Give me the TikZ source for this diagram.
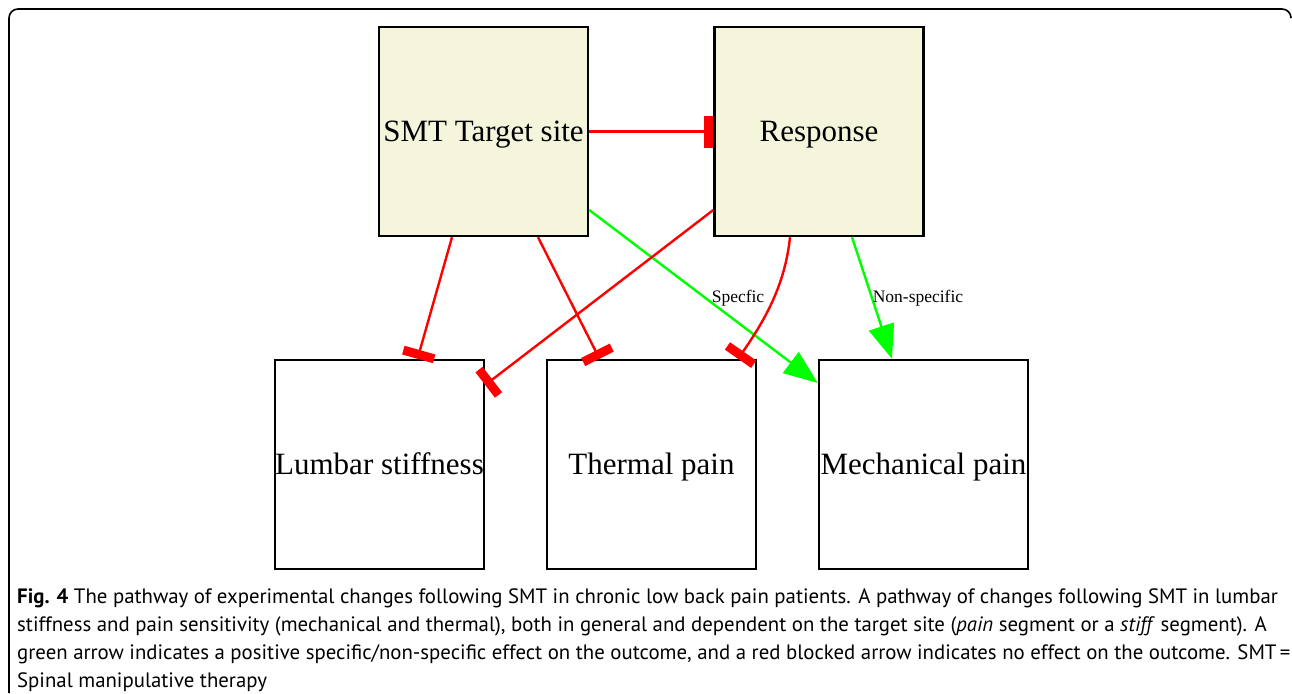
\documentclass[tikz,border=0pt]{standalone}
\usepackage{fontspec}
\setmainfont{Liberation Serif}
\newfontfamily\capfont{PT Sans}
\usetikzlibrary{arrows.meta}
\definecolor{boxfill}{HTML}{F5F5DC}
\definecolor{gr}{HTML}{00FF00}
\definecolor{rd}{HTML}{FF0000}
\begin{document}
\begin{tikzpicture}[x=1pt,y=-1pt,
  box/.style={draw=black,line width=2.4pt,minimum width=209pt,minimum height=209pt,inner sep=0pt,text depth=1pt,font=\fontsize{31}{34}\selectfont},
  src/.style={box,fill=boxfill},
  blk/.style={draw=rd,line width=2.4pt,-{Rectangle[length=9pt,width=32pt]}},
  posarrow/.style={draw=gr,line width=2.4pt,-{Triangle[length=34pt,width=26pt]}},
  elab/.style={font=\fontsize{17.5}{20}\selectfont,inner sep=0pt},
  capline/.style={anchor=base west,inner sep=0pt,font=\capfont\fontsize{20.8}{24}\selectfont}]
\useasboundingbox (0,0) rectangle (1292,693);
\draw[line width=1.6pt,rounded corners=9pt] (1291,17) -- (1291,9) -- (9,9) -- (9,693);
\node[src] (smt) at (483.5,131.5) {SMT Target site};
\node[src] (resp) at (819,131.5) {Response};
\node[box] (lumb) at (379.5,464.5) {Lumbar stiffness};
\node[box] (therm) at (651.5,464.5) {Thermal pain};
\node[box] (mech) at (923.5,464.5) {Mechanical pain};
\draw[blk] (smt.east) -- (resp.west);
\draw[blk] ([xshift=-31.5]smt.south) -- ([xshift=38]lumb.north);
\draw[blk] ([xshift=54.5]smt.south) -- ([xshift=-52]therm.north);
\draw[posarrow] ([yshift=-78.5]smt.east) -- ([yshift=81.5]mech.west);
\draw[blk] ([yshift=-78.5]resp.west) -- ([yshift=79.5]lumb.east);
\draw[blk] ([xshift=-29]resp.south) .. controls (785,285) and (765,320) .. ([xshift=86.5]therm.north);
\draw[posarrow] ([xshift=33]resp.south) -- ([xshift=-31.5]mech.north);
\node[elab] (l1) at (738,298) {Specfic};
\node[elab] (l2) at (918,298) {Non-specific};
\node[capline] (c1) at (17,603) {\textbf{Fig. 4} The pathway of experimental changes following SMT in chronic low back pain patients. A pathway of changes following SMT in lumbar};
\node[capline] (c2) at (17,631) {stiffness and pain sensitivity (mechanical and thermal), both in general and dependent on the target site (\textit{pain} segment or a \textit{stiff} segment). A};
\node[capline] (c3) at (17,659) {green arrow indicates a positive specific/non-specific effect on the outcome, and a red blocked arrow indicates no effect on the outcome. SMT\,=};
\node[capline] (c4) at (17,687) {Spinal manipulative therapy};
\end{tikzpicture}
\end{document}
